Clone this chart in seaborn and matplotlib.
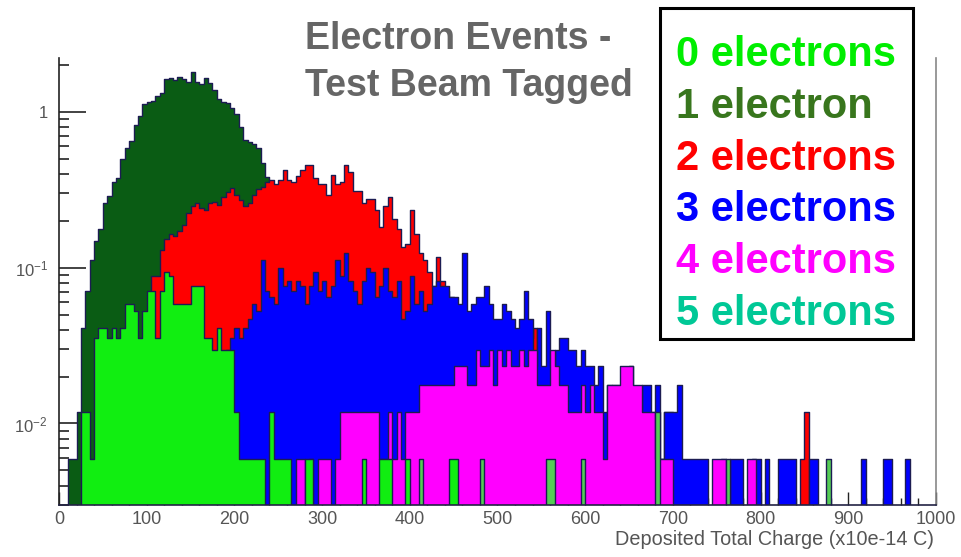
import numpy as np
import pandas as pd
import matplotlib
matplotlib.use("Agg")
import matplotlib.pyplot as plt
from matplotlib.patches import Rectangle
from matplotlib.ticker import FixedLocator, NullFormatter
import seaborn as sns

# ---------------- data (counts per 5-unit charge bin) ----------------
BIN_WIDTH = 5
NORM = 1.0 / 170.0          # normalisation of one entry

one_e_start = 10
one_e = [1, 1, 2, 7, 12, 19, 25, 30, 44, 49,
         60, 64, 85, 100, 110, 140, 160, 190, 195, 200,
         215, 225, 275, 280, 270, 285, 275, 265, 305, 262,
         255, 280, 258, 235, 205, 197, 192, 180, 165, 135,
         112, 108, 105, 100, 80, 65, 55]

two_e_start = 105
two_e = [15, 15, 22, 26, 28, 27, 29, 32, 38, 42,
         44, 41, 40, 44, 45, 43, 48, 52, 55, 50,
         46, 42, 44, 50, 54, 56, 60, 62, 58, 62,
         72, 62, 60, 66, 72, 77, 77, 64, 58, 58,
         50, 67, 58, 60, 77, 70, 53, 53, 44, 47,
         47, 40, 31, 42, 48, 35, 30, 23, 24, 40,
         28, 21, 19, 16, 13, 20, 14, 12, 11, 10,
         9, 8, 8, 7, 7, 6, 6, 5, 5, 5,
         4, 5, 4, 4, 5, 7, 6, 7, 3, 3,
         3, 3, 2, 3, 2, 2, 2, 2, 1, 2,
         1, 2, 1, 1, 2, 3, 3, 3, 2, 1,
         1, 1, 1, 0, 1, 1, 1, 2, 2, 1,
         0, 0, 0, 0, 0, 0, 0, 0, 0, 0,
         0, 0, 0, 0, 0, 0, 0, 0, 0, 0,
         0, 0, 0, 0, 0, 0, 0, 0, 1, 2]

three_e_start = 175
three_e = [4, 5, 4, 5, 6, 7, 6, 7, 8, 10,
           9, 19, 12, 11, 10, 17, 13, 14, 12, 14,
           13, 10, 13, 16, 12, 14, 11, 13, 19, 15,
           21, 14, 12, 10, 14, 17, 16, 11, 13, 17,
           12, 11, 14, 8, 9, 15, 10, 12, 9, 10,
           13, 14, 13, 13, 11, 11, 10, 21, 9, 10,
           11, 11, 13, 10, 8, 8, 10, 9, 8, 7,
           8, 12, 8, 4, 7, 4, 9, 4, 5, 6,
           6, 5, 5, 4, 5, 4, 4, 3, 4, 2,
           3, 2, 1, 2, 2, 4, 2, 2, 3, 3,
           2, 3, 1, 2, 2, 2, 3, 1, 1, 1,
           1, 1, 1, 0, 0, 0, 1, 0, 1, 1,
           1, 0, 0, 1, 1, 0, 1, 0, 0, 1,
           1, 1, 1, 0, 0, 0, 1, 1, 0, 0,
           0, 0, 0, 0, 0, 0, 0, 0, 1, 0,
           0, 0, 0, 1, 1, 0, 0, 0, 1, 0]

four_e_start = 270
four_e = [1, 1, 0, 1, 0, 1, 1, 1, 0, 1,
          2, 2, 2, 2, 2, 2, 2, 2, 2, 1,
          1, 2, 1, 2, 1, 2, 2, 2, 3, 3,
          3, 3, 3, 3, 3, 3, 4, 4, 4, 3,
          3, 5, 4, 4, 5, 3, 5, 4, 5, 4,
          4, 5, 4, 5, 5, 3, 3, 3, 5, 4,
          3, 3, 2, 2, 2, 3, 2, 3, 2, 2,
          1, 3, 3, 3, 4, 4, 4, 3, 3, 2,
          2, 2, 1, 1, 1, 1, 0, 0, 0, 0,
          0, 0, 0, 0, 0, 1, 1, 1, 0, 0,
          0, 0, 0, 1, 1]

five_e_bins = [410, 480, 555, 560, 595, 680, 760, 875]
five_e = [1, 1, 1, 1, 1, 2, 1, 1]

zero_e_start = 25
zero_e = [2, 2, 1, 6, 7, 7, 6, 7, 6, 7,
          10, 10, 9, 6, 9, 12, 12, 6, 12, 16,
          15, 10, 10, 10, 10, 13, 13, 13, 6, 6,
          5, 7, 5, 5, 5, 2, 1, 1, 1, 1,
          1, 1, 0, 2, 1, 1, 1, 1, 0, 0,
          0, 1, 1, 0, 0, 0, 0, 0, 0, 0,
          0, 0, 0, 0, 1, 0, 0, 0, 1, 1,
          1, 0, 0, 0, 1, 0, 0, 0, 0, 0,
          0, 0, 0, 0, 1, 1]

legend_labels = ["0 electrons", "1 electron", "2 electrons",
                 "3 electrons", "4 electrons", "5 electrons"]
legend_colors = ["#00ee00", "#38761d", "#ff0000", "#0000ff", "#ff00ff", "#00c896"]
title_lines = ["Electron Events -", "Test Beam Tagged"]
x_ticks = [0, 100, 200, 300, 400, 500, 600, 700, 800, 900, 1000]
x_label = "Deposited Total Charge (x10e-14 C)"

# ---------------- style ----------------
sns.set_theme(style="white")
plt.rcParams["font.family"] = ["Liberation Sans", "DejaVu Sans"]
plt.rcParams["mathtext.fontset"] = "custom"
plt.rcParams["mathtext.rm"] = "Liberation Sans"
plt.rcParams["mathtext.default"] = "regular"

W, H = 962, 557
fig = plt.figure(figsize=(W / 100, H / 100), dpi=100)
fig.patch.set_facecolor("white")
ax_l, ax_r, ax_t, ax_b = 59, 936, 58, 505
ax = fig.add_axes([ax_l / W, 1 - ax_b / H, (ax_r - ax_l) / W, (ax_b - ax_t) / H])
ax.set_facecolor("white")

EDGES = list(range(0, 1000 + BIN_WIDTH, BIN_WIDTH))
EDGE_COLOR = "#1c1c52"


def lows_from(start, counts):
    return [start + BIN_WIDTH * i for i in range(len(counts))]


def draw(lows, counts, color):
    df = pd.DataFrame({
        "charge": [lo + BIN_WIDTH / 2 for lo in lows],
        "height": [c * NORM for c in counts],
    })
    sns.histplot(data=df, x="charge", weights="height", bins=EDGES,
                 element="step", fill=True, color=color, alpha=1.0,
                 edgecolor=EDGE_COLOR, linewidth=1.0, ax=ax)


draw(lows_from(one_e_start, one_e), one_e, "#0a5c14")
draw(lows_from(two_e_start, two_e), two_e, "#ff0000")
draw(lows_from(three_e_start, three_e), three_e, "#0000ff")
draw(lows_from(four_e_start, four_e), four_e, "#ff00ff")
draw(five_e_bins, five_e, "#55cc55")
draw(lows_from(zero_e_start, zero_e), zero_e, "#11ee11")

ax.set_yscale("log")
ax.set_xlim(0, 1000)
ax.set_ylim(0.003, 2.21)
ax.set_xlabel("")
ax.set_ylabel("")
ax.set_axisbelow(True)

# spines
ax.spines["top"].set_visible(False)
ax.spines["left"].set_color("#222222")
ax.spines["bottom"].set_color("#222244")
ax.spines["right"].set_color("#888888")
for s in ["left", "bottom", "right"]:
    ax.spines[s].set_linewidth(1.2)

# ticks
ax.xaxis.set_major_locator(FixedLocator(x_ticks))
ax.xaxis.set_minor_locator(FixedLocator(list(range(0, 1001, 20))))
ax.set_xticklabels([str(t) for t in x_ticks])
ax.yaxis.set_major_locator(FixedLocator([0.01, 0.1, 1]))
ax.set_yticklabels(["$10^{-2}$", "$10^{-1}$", "1"])
minor_y = [m * 10.0 ** e for e in (-3, -2, -1, 0) for m in range(2, 10)]
ax.yaxis.set_minor_locator(FixedLocator(minor_y))
ax.yaxis.set_minor_formatter(NullFormatter())
ax.tick_params(axis="y", which="major", direction="in", length=19.5, width=1.2,
               color="#222222", labelsize=12, labelcolor="#555555", pad=8,
               left=True, right=False)
ax.tick_params(axis="y", which="minor", direction="in", length=7.5, width=1.2,
               color="#222222", left=True, right=False)
ax.tick_params(axis="x", which="major", direction="in", length=9.5, width=1.0,
               color="#222222", labelsize=13, labelcolor="#555555", pad=4,
               bottom=True, top=False)
ax.tick_params(axis="x", which="minor", direction="in", length=5, width=1.0,
               color="#222222", bottom=True, top=False)

# axis title
fig.text(934 / W, 1 - 545 / H, x_label, ha="right", va="baseline",
         fontsize=14.3, color="#555555")

# chart title
fig.text(305 / W, 1 - 49 / H, title_lines[0], ha="left", va="baseline",
         fontsize=27, fontweight="bold", color="#666666")
fig.text(305 / W, 1 - 96 / H, title_lines[1], ha="left", va="baseline",
         fontsize=27, fontweight="bold", color="#666666")

# legend box
fig.patches.append(Rectangle((660 / W, 1 - 339 / H), (913 - 660) / W, (339 - 8) / H,
                             transform=fig.transFigure, facecolor="white",
                             edgecolor="black", linewidth=2.2, zorder=5))
for i, (lab, col) in enumerate(zip(legend_labels, legend_colors)):
    fig.text(676 / W, 1 - (66 + 51.8 * i) / H, lab, ha="left", va="baseline",
             fontsize=30, fontweight="bold", color=col, zorder=6)

fig.savefig("out.png", dpi=100, facecolor="white")
